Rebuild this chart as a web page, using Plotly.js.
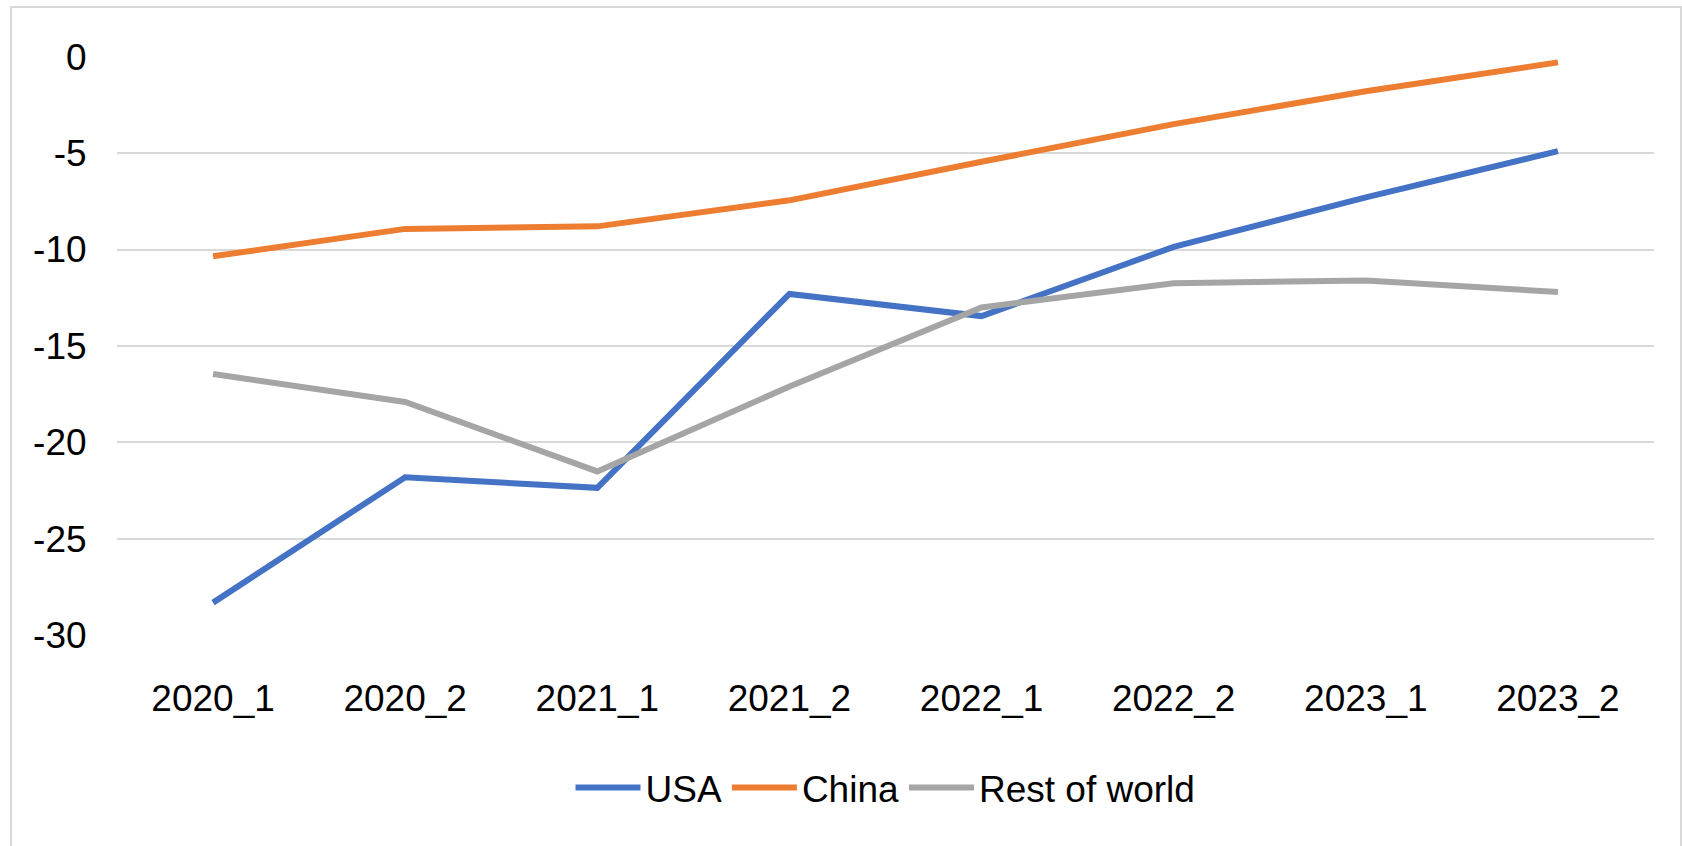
<!DOCTYPE html>
<html>
<head>
<meta charset="utf-8">
<script src="https://cdn.plot.ly/plotly-3.0.1.min.js"></script>
<style>
html,body{margin:0;padding:0;background:#fff;}
#chart{width:1682px;height:846px;}
</style>
</head>
<body>
<div id="chart"></div>
<script>
const categories = ["2020_1","2020_2","2021_1","2021_2","2022_1","2022_2","2023_1","2023_2"];
const usa = [-28.3, -21.8, -22.35, -12.3, -13.45, -9.86, -7.3, -4.9];
const china = [-10.35, -8.93, -8.8, -7.45, -5.45, -3.5, -1.8, -0.3];
const restOfWorld = [-16.45, -17.9, -21.5, -17.1, -13.0, -11.75, -11.6, -12.2];
const seriesNames = ["USA", "China", "Rest of world"];
const yTicks = [0, -5, -10, -15, -20, -25, -30];

const FONT = '"Liberation Sans Narrow", "Arial Narrow", "Liberation Sans", Arial, sans-serif';
const FS = 37;
const colors = ["#4472C4", "#ED7D31", "#A5A5A5"];
const data = [usa, china, restOfWorld].map((vals, i) => ({
  type: 'scatter', mode: 'lines', x: categories, y: vals, name: seriesNames[i],
  line: {color: colors[i], width: 6}
}));

const layout = {
  width: 1682, height: 846,
  margin: {l: 117, r: 28, t: 56, b: 210},
  paper_bgcolor: '#fff', plot_bgcolor: '#fff',
  font: {family: FONT, size: FS, color: '#000'},
  showlegend: true,
  legend: {orientation: 'h', x: 0.5, xanchor: 'center', y: -0.262, yanchor: 'middle',
           font: {family: FONT, size: FS, color: '#000'}, itemwidth: 65, traceorder: 'normal'},
  xaxis: {type: 'category', range: [-0.5, 7.5], showgrid: false, zeroline: false, showline: false,
          ticks: 'outside', ticklen: 30, tickcolor: 'rgba(0,0,0,0)',
          tickfont: {family: FONT, size: FS, color: '#000'}},
  yaxis: {range: [-30.03, 0.03], tickvals: yTicks, ticktext: yTicks.map(String),
          showgrid: true, gridcolor: '#d9d9d9', gridwidth: 2, zeroline: false, showline: false,
          ticks: 'outside', ticklen: 22, tickcolor: 'rgba(0,0,0,0)',
          tickfont: {family: FONT, size: FS, color: '#000'}},
  shapes: [{type: 'rect', xref: 'paper', yref: 'paper',
            x0: (11-117)/1537, x1: (1681-117)/1537, y0: (636-860)/580, y1: (636-7)/580,
            line: {color: '#d9d9d9', width: 2}, fillcolor: 'rgba(0,0,0,0)', layer: 'below'}]
};
Plotly.newPlot('chart', data, layout, {displayModeBar: false, staticPlot: true});
</script>
</body>
</html>
